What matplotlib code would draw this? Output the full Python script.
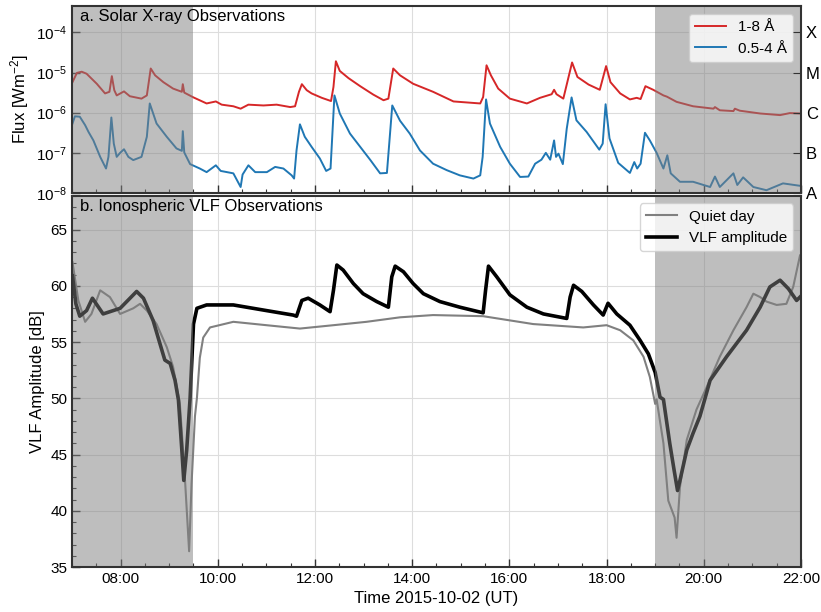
import numpy as np
import pandas as pd
import matplotlib
matplotlib.use("Agg")
import matplotlib.pyplot as plt
import matplotlib.dates as mdates
from matplotlib.ticker import FixedLocator, FixedFormatter, MultipleLocator, NullLocator

plt.rcParams['font.family'] = ['Liberation Sans', 'DejaVu Sans']
plt.rcParams['mathtext.fontset'] = 'custom'
plt.rcParams['mathtext.rm'] = 'Liberation Sans'
plt.rcParams['mathtext.it'] = 'Liberation Sans:italic'
plt.rcParams['mathtext.bf'] = 'Liberation Sans:bold'

# ---------------- data ----------------
# GOES 1-8 A (long) : time [hours UT], log10 flux [W m^-2]
xrs_long_hours = [7.01, 7.10, 7.20, 7.30, 7.51, 7.68, 7.77, 7.82, 7.87, 7.92, 8.07, 8.19, 8.43, 8.54,
                  8.62, 8.71, 8.88, 9.08, 9.26, 9.28, 9.31, 9.50, 9.77, 9.96, 10.08, 10.32, 10.47,
                  10.63, 10.94, 11.21, 11.49, 11.59, 11.67, 11.73, 11.83, 11.93, 12.14, 12.33,
                  12.38, 12.43, 12.51, 12.69, 12.93, 13.20, 13.41, 13.51, 13.61, 13.75, 14.02,
                  14.43, 14.85, 15.40, 15.46, 15.53, 15.62, 15.77, 16.01, 16.36, 16.63, 16.87,
                  16.92, 16.97, 17.11, 17.21, 17.29, 17.40, 17.63, 17.86, 17.99, 18.08, 18.28,
                  18.48, 18.62, 18.70, 18.80, 18.96, 19.17, 19.24, 19.44, 19.78, 20.20, 20.23,
                  20.33, 20.61, 20.64, 20.74, 21.16, 21.57, 21.77, 21.98]
xrs_long_log = [-5.24, -5.01, -4.98, -5.03, -5.28, -5.52, -5.48, -5.09, -5.44, -5.57, -5.47, -5.59,
                -5.65, -5.57, -4.90, -5.07, -5.24, -5.40, -5.48, -5.29, -5.50, -5.62, -5.77, -5.72,
                -5.80, -5.84, -5.90, -5.80, -5.82, -5.80, -5.86, -5.84, -5.48, -5.29, -5.44, -5.52,
                -5.63, -5.71, -5.36, -4.72, -4.96, -5.14, -5.34, -5.55, -5.69, -5.65, -4.90, -5.07,
                -5.28, -5.48, -5.72, -5.77, -5.61, -4.82, -5.07, -5.40, -5.65, -5.77, -5.63, -5.54,
                -5.43, -5.54, -5.65, -5.15, -4.75, -5.11, -5.30, -5.43, -4.84, -5.24, -5.52, -5.67,
                -5.63, -5.66, -5.34, -5.43, -5.57, -5.60, -5.73, -5.84, -5.90, -5.86, -5.94, -5.96,
                -5.90, -5.95, -6.02, -6.06, -6.01, -6.02]

# GOES 0.5-4 A (short)
xrs_short_hours = [7.01, 7.06, 7.16, 7.27, 7.34, 7.44, 7.58, 7.70, 7.75, 7.81, 7.86, 7.92, 7.99, 8.07,
                   8.16, 8.26, 8.43, 8.54, 8.60, 8.74, 8.95, 9.15, 9.26, 9.28, 9.31, 9.43, 9.63,
                   9.77, 9.96, 10.06, 10.32, 10.47, 10.51, 10.63, 10.77, 11.01, 11.18, 11.35,
                   11.52, 11.57, 11.62, 11.69, 11.79, 11.93, 12.10, 12.23, 12.32, 12.40, 12.51,
                   12.72, 12.93, 13.14, 13.34, 13.48, 13.59, 13.75, 13.95, 14.16, 14.43, 14.71,
                   14.98, 15.26, 15.40, 15.45, 15.52, 15.60, 15.81, 16.01, 16.22, 16.39, 16.53,
                   16.66, 16.75, 16.84, 16.92, 16.96, 17.01, 17.10, 17.18, 17.28, 17.38, 17.59,
                   17.85, 17.92, 17.98, 18.06, 18.24, 18.48, 18.57, 18.63, 18.70, 18.79, 18.89,
                   19.03, 19.17, 19.25, 19.32, 19.51, 19.78, 20.13, 20.23, 20.33, 20.61, 20.69,
                   20.81, 21.02, 21.29, 21.63, 21.98]
xrs_short_log = [-6.27, -6.09, -6.10, -6.31, -6.48, -6.69, -7.10, -7.39, -7.10, -6.12, -6.77, -7.10,
                 -7.00, -6.91, -7.10, -7.18, -7.10, -6.60, -5.77, -6.27, -6.60, -6.89, -6.95, -6.46,
                 -6.99, -7.28, -7.39, -7.48, -7.31, -7.45, -7.51, -7.85, -7.54, -7.31, -7.48, -7.48,
                 -7.35, -7.39, -7.56, -7.64, -6.94, -6.29, -6.60, -6.85, -7.14, -7.45, -7.39, -5.57,
                 -6.02, -6.52, -6.85, -7.18, -7.51, -7.50, -5.82, -6.20, -6.52, -6.94, -7.27, -7.43,
                 -7.56, -7.64, -7.56, -7.10, -5.67, -6.27, -6.85, -7.27, -7.60, -7.59, -7.27, -7.17,
                 -7.00, -7.17, -6.69, -7.10, -7.02, -7.28, -6.40, -5.62, -6.19, -6.48, -6.92, -6.77,
                 -5.79, -6.64, -7.25, -7.50, -7.23, -7.39, -7.27, -6.50, -6.69, -7.00, -7.39, -7.06,
                 -7.51, -7.72, -7.72, -7.85, -7.59, -7.85, -7.51, -7.80, -7.61, -7.85, -7.93, -7.76,
                 -7.82]

# VLF amplitude [dB]
vlf_hours = [7.01, 7.08, 7.16, 7.30, 7.42, 7.64, 7.99, 8.33, 8.47, 8.67, 8.81, 8.91, 9.02, 9.12,
             9.19, 9.26, 9.30, 9.36, 9.43, 9.50, 9.57, 9.77, 10.32, 11.00, 11.55, 11.62, 11.73,
             11.86, 12.10, 12.31, 12.38, 12.45, 12.58, 12.79, 12.99, 13.27, 13.51, 13.58, 13.65,
             13.82, 14.02, 14.23, 14.57, 14.98, 15.46, 15.51, 15.57, 15.74, 16.01, 16.36, 16.70,
             17.18, 17.25, 17.32, 17.49, 17.73, 17.93, 18.03, 18.21, 18.48, 18.69, 18.86, 19.00,
             19.10, 19.17, 19.30, 19.39, 19.46, 19.51, 19.65, 19.78, 19.92, 20.02, 20.13, 20.47,
             20.88, 21.16, 21.36, 21.57, 21.74, 21.91, 21.98]
vlf_db = [60.9, 58.4, 57.3, 57.8, 58.9, 57.5, 58.0, 59.5, 58.9, 56.9, 54.85, 53.4, 53.1, 51.6,
          49.85, 45.4, 42.7, 45.4, 50.0, 56.6, 58.0, 58.3, 58.3, 57.8, 57.4, 57.3, 58.7,
          58.9, 58.3, 57.7, 59.6, 61.85, 61.4, 60.2, 59.3, 58.6, 58.1, 60.8, 61.75,
          61.25, 60.2, 59.3, 58.6, 58.1, 57.6, 59.6, 61.75, 60.8, 59.2, 58.1, 57.5,
          57.1, 59.0, 60.05, 59.5, 58.3, 57.4, 58.45, 57.5, 56.5, 55.15, 53.95, 52.3,
          50.1, 49.9, 46.0, 43.6, 41.8, 42.7, 45.4, 46.9, 48.4, 49.9, 51.6, 53.7,
          56.05, 58.1, 59.9, 60.5, 59.75, 58.7, 59.0]

# Quiet day reference [dB]
quiet_hours = [7.01, 7.13, 7.27, 7.40, 7.58, 7.78, 7.99, 8.26, 8.40, 8.54, 8.74, 8.95, 9.08, 9.22,
               9.26, 9.33, 9.41, 9.46, 9.53, 9.57, 9.63, 9.70, 9.84, 10.32, 11.00, 11.69, 12.38,
               13.06, 13.75, 14.43, 15.46, 16.49, 17.52, 18.00, 18.28, 18.55, 18.76, 18.89, 19.00,
               19.03, 19.17, 19.27, 19.40, 19.44, 19.51, 19.65, 19.85, 20.06, 20.33, 20.61, 20.88,
               21.02, 21.16, 21.29, 21.50, 21.70, 21.84, 21.98]
quiet_db = [62.1, 58.7, 56.8, 57.5, 59.6, 59.0, 57.5, 58.0, 58.4, 57.8, 56.6, 54.55, 52.8, 49.5,
            47.0, 42.4, 36.4, 42.4, 48.4, 50.0, 53.6, 55.4, 56.3, 56.8, 56.5, 56.2, 56.5,
            56.8, 57.2, 57.4, 57.3, 56.6, 56.3, 56.5, 56.05, 55.15, 53.7, 51.9, 49.5,
            49.9, 46.0, 40.9, 39.4, 37.6, 42.1, 46.3, 49.0, 51.0, 53.7, 56.05, 58.1,
            59.3, 59.0, 58.6, 58.3, 58.4, 59.9, 62.7]

night_spans = [(7.0, 9.5), (19.0, 22.0)]
flare_class_labels = ['A', 'B', 'C', 'M', 'X']
flare_class_levels = [1e-8, 1e-7, 1e-6, 1e-5, 1e-4]

day0 = pd.Timestamp('2015-10-02')
def to_time(hours):
    return day0 + pd.to_timedelta(np.asarray(hours, dtype=float), unit='h')

# ---------------- figure ----------------
fig = plt.figure(figsize=(8.21, 6.12), dpi=100)
ax1 = fig.add_axes([0.0877, 0.6846, 0.8879, 0.3054])
ax2 = fig.add_axes([0.0877, 0.0735, 0.8879, 0.6065], sharex=ax1)

red = '#d62728'
blue = '#1f77b4'
spine_c = '#333333'
fs = 11
lfs = 12

ax1.plot(to_time(xrs_long_hours), 10 ** np.array(xrs_long_log), color=red, lw=1.4,
         label='1-8 Å', zorder=2)
ax1.plot(to_time(xrs_short_hours), 10 ** np.array(xrs_short_log), color=blue, lw=1.4,
         label='0.5-4 Å', zorder=2)
ax1.set_yscale('log')
ax1.set_ylim(1e-8, 4.5e-4)
ax1.yaxis.set_minor_locator(NullLocator())
ax1.set_ylabel('Flux [Wm$^{-2}$]', fontsize=lfs)

ax2.plot(to_time(quiet_hours), quiet_db, color='#808080', lw=1.5, label='Quiet day', zorder=2)
ax2.plot(to_time(vlf_hours), vlf_db, color='black', lw=2.6, label='VLF amplitude', zorder=2)
ax2.set_ylim(35, 68)
ax2.yaxis.set_major_locator(MultipleLocator(5))
ax2.yaxis.set_minor_locator(MultipleLocator(1))
ax2.set_ylabel('VLF Amplitude [dB]', fontsize=lfs)
ax2.set_xlabel('Time 2015-10-02 (UT)', fontsize=lfs)

for ax in (ax1, ax2):
    for a, b in night_spans:
        ax.axvspan(to_time([a])[0], to_time([b])[0], color='#7f7f7f', alpha=0.5, lw=0, zorder=3)
    ax.grid(True, which='major', color='#dddddd', lw=0.8, zorder=0)
    ax.set_axisbelow(True)
    for s in ax.spines.values():
        s.set_color(spine_c)
        s.set_linewidth(1.5)
        s.set_zorder(6)
    ax.tick_params(which='both', direction='in', labelsize=fs, color=spine_c)
    ax.tick_params(which='major', length=6, width=1.0)
    ax.tick_params(which='minor', length=3, width=0.8)

ax2.set_xlim(to_time([7.0])[0], to_time([22.0])[0])
ax2.xaxis.set_major_locator(mdates.HourLocator(byhour=range(0, 24, 2)))
ax2.xaxis.set_minor_locator(mdates.MinuteLocator(byminute=[0, 30]))
ax2.xaxis.set_major_formatter(mdates.DateFormatter('%H:%M'))
ax1.tick_params(axis='x', labelbottom=False)

# flare class axis
axr = ax1.twinx()
axr.set_yscale('log')
axr.set_ylim(ax1.get_ylim())
axr.yaxis.set_major_locator(FixedLocator(flare_class_levels))
axr.yaxis.set_major_formatter(FixedFormatter(flare_class_labels))
axr.yaxis.set_minor_locator(NullLocator())
axr.tick_params(which='both', direction='in', labelsize=lfs, length=6, color=spine_c)
for s in axr.spines.values():
    s.set_visible(False)

ax1.text(0.011, 0.985, 'a. Solar X-ray Observations', transform=ax1.transAxes,
         va='top', ha='left', fontsize=12, zorder=7)
ax2.text(0.011, 0.992, 'b. Ionospheric VLF Observations', transform=ax2.transAxes,
         va='top', ha='left', fontsize=12, zorder=7)

leg1 = ax1.legend(loc='upper right', fontsize=fs, framealpha=0.8)
leg1.set_zorder(8)
leg2 = ax2.legend(loc='upper right', fontsize=fs, framealpha=0.8)
leg2.set_zorder(8)

fig.savefig('out.png', dpi=100)
